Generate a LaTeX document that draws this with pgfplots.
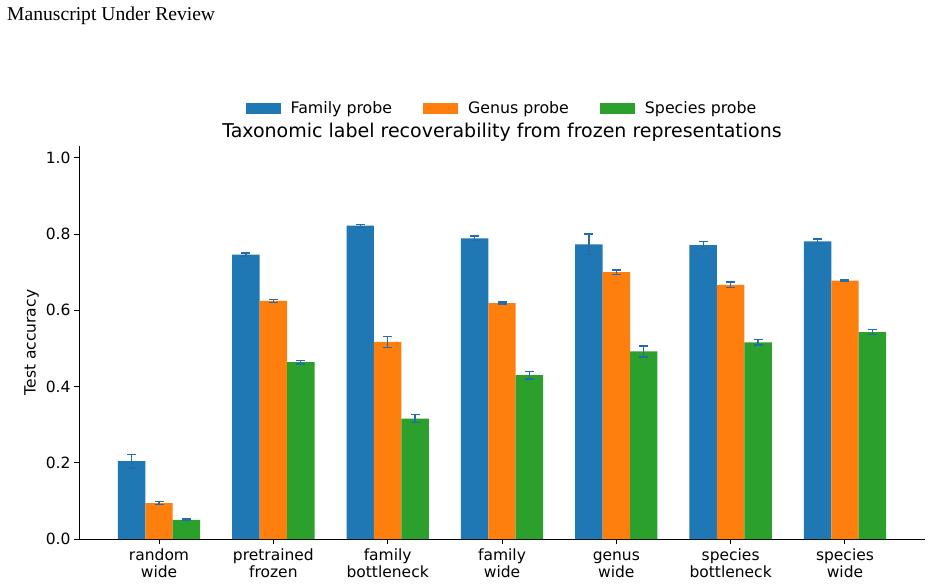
\documentclass[border=0pt]{standalone}
\usepackage{fontspec}
\setmainfont{DejaVu Sans}
\newfontfamily\headfont{Liberation Serif}
\usepackage{pgfplots}
\usepackage{pgfplotstable}
\pgfplotsset{compat=1.18}

\definecolor{cfam}{HTML}{1F77B4}
\definecolor{cgen}{HTML}{FF7F0E}
\definecolor{cspe}{HTML}{2CA02C}
\definecolor{cerr}{RGB}{38,108,168}

\pgfplotsset{
  errstyle/.style={
    error bars/y dir=both, error bars/y explicit,
    error bars/error bar style={color=cerr,line width=1.4pt},
    error bars/error mark options={color=cerr,rotate=90,mark size=4.5pt,line width=1.4pt},
  },
}

% mean test accuracy and spread per probe, one row per representation
\pgfplotstableread{
x y err
0 0.204 0.018
1 0.746 0.004
2 0.822 0.003
3 0.789 0.006
4 0.773 0.027
5 0.771 0.009
6 0.781 0.006
}\familytab
\pgfplotstableread{
x y err
0 0.094 0.004
1 0.625 0.004
2 0.517 0.015
3 0.619 0.003
4 0.700 0.006
5 0.667 0.007
6 0.678 0.002
}\genustab
\pgfplotstableread{
x y err
0 0.050 0.002
1 0.464 0.005
2 0.316 0.010
3 0.430 0.010
4 0.492 0.014
5 0.516 0.007
6 0.543 0.007
}\speciestab

\begin{document}
\begin{tikzpicture}[x=1pt,y=1pt]
\path[use as bounding box] (0,0) rectangle (933,-586);
\node[anchor=base west,inner sep=0pt,font=\headfont\fontsize{19.6}{22}\selectfont] at (7,-20.5) {Manuscript Under Review};
\begin{axis}[
  at={(79pt,-539pt)}, anchor=south west,
  scale only axis, width=846pt, height=393pt,
  xmin=-0.7, xmax=6.7, ymin=0, ymax=1.031,
  axis x line*=bottom, axis y line*=left,
  axis line style={line width=1pt,black},
  every tick/.style={black,line width=1pt},
  tick align=outside, major tick length=5pt,
  xtick={0,...,6},
  xticklabels={{\strut random\\wide},{\strut pretrained\\frozen},{\strut family\\bottleneck},{\strut family\\wide},{\strut genus\\wide},{\strut species\\bottleneck},{\strut species\\wide}},
  xticklabel style={align=center,font=\fontsize{15.5}{17}\selectfont,inner ysep=1pt,yshift=-3pt},
  ytick={0,0.2,0.4,0.6,0.8,1.0},
  yticklabel style={font=\fontsize{15.5}{17}\selectfont,
    /pgf/number format/.cd,fixed,fixed zerofill,precision=1},
  /pgf/number format/assume math mode=true,
  ylabel={Test accuracy},
  ylabel style={font=\fontsize{15.5}{17}\selectfont},
  title={Taxonomic label recoverability from frozen representations},
  title style={font=\fontsize{19}{21}\selectfont,yshift=-5pt},
  ybar, bar width=0.24,
  legend columns=3,
  legend style={at={(0.5,1)}, anchor=center, yshift=38pt, draw=none,
    font=\fontsize{15.8}{17}\selectfont,
    /tikz/every odd column/.append style={column sep=8pt},
    /tikz/every even column/.append style={column sep=29pt}},
  legend image code/.code={\fill[#1] (0pt,-5.5pt) rectangle (35pt,5.5pt);},
]
\addplot[fill=cfam,draw=none,bar shift=-0.24,errstyle] table[x=x,y=y,y error=err] {\familytab};
\addplot[fill=cgen,draw=none,bar shift=0,errstyle] table[x=x,y=y,y error=err] {\genustab};
\addplot[fill=cspe,draw=none,bar shift=0.24,errstyle] table[x=x,y=y,y error=err] {\speciestab};
\legend{Family probe,Genus probe,Species probe}
\end{axis}
\end{tikzpicture}
\end{document}
